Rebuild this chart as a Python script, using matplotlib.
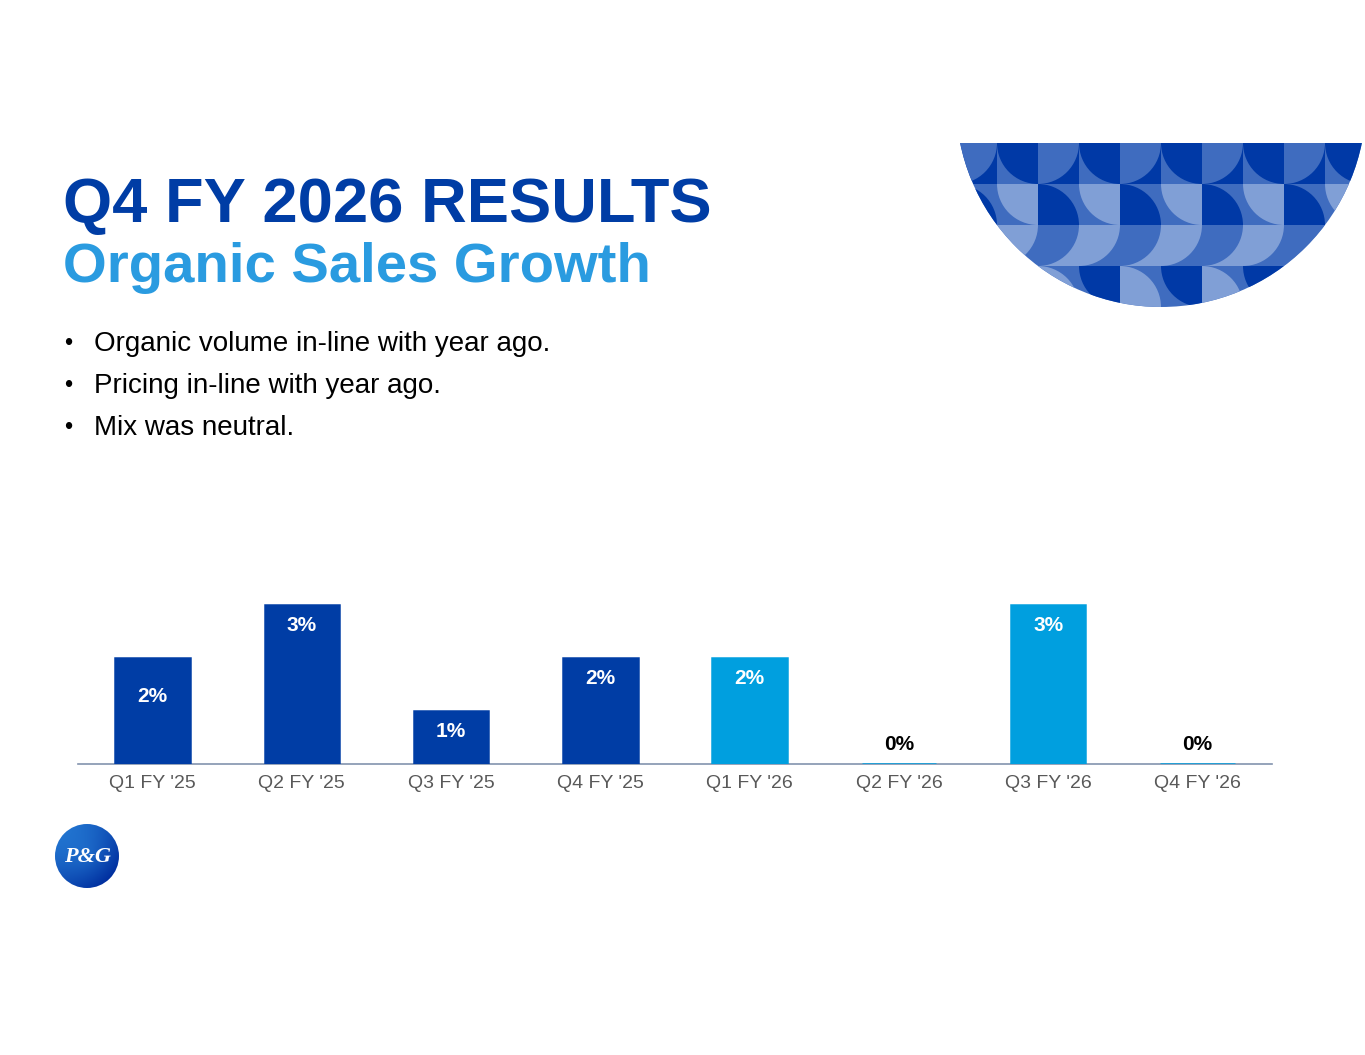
import numpy as np
import matplotlib.pyplot as plt
from matplotlib.patches import Circle, Rectangle, Wedge

# data
quarters = ["Q1 FY '25", "Q2 FY '25", "Q3 FY '25", "Q4 FY '25",
            "Q1 FY '26", "Q2 FY '26", "Q3 FY '26", "Q4 FY '26"]
growth = [2, 3, 1, 2, 2, 0, 3, 0]
fiscal_year = ['25', '25', '25', '25', '26', '26', '26', '26']

bullets = ["Organic volume in-line with year ago.",
           "Pricing in-line with year ago.",
           "Mix was neutral."]

DARK = '#0039A6'
MID = '#3F6CBF'
LIGHT = '#809FD6'
BAR_25 = '#003DA5'
BAR_26 = '#009FDF'

W, H = 1365, 1055
fig = plt.figure(figsize=(W / 100, H / 100), dpi=100)
plt.rcParams['font.family'] = ['Liberation Sans', 'DejaVu Sans']

# overlay axes in pixel coords for the slide furniture
bg = fig.add_axes([0, 0, 1, 1])
bg.set_xlim(0, W)
bg.set_ylim(H, 0)
bg.axis('off')

bg.text(63, 222, "Q4 FY 2026 RESULTS", fontsize=45.5, fontweight='bold',
        color='#003DA5', va='baseline', ha='left')
bg.text(63, 282, "Organic Sales Growth", fontsize=40.5, fontweight='bold',
        color='#2A9BE0', va='baseline', ha='left')

for i, b in enumerate(bullets):
    y = 344 + i * 42
    bg.text(64, y, "\u2022", fontsize=17, va='center', ha='left', color='black')
    bg.text(94, y, b, fontsize=20, va='center', ha='left', color='black')

# decorative tiled half circle
clip = Circle((1161, 102), 205, transform=bg.transData)
s = 41
x0, y0 = 956, 143
# (background, quarter colour, corner) per row, for even / odd columns
pattern = [
    [(DARK, MID, 'TL'), (MID, DARK, 'TR')],
    [(MID, DARK, 'BL'), (MID, LIGHT, 'TR')],
    [(LIGHT, MID, 'TL'), (MID, LIGHT, 'TL')],
    [(MID, LIGHT, 'BL'), (MID, DARK, 'TR')],
]
corner_def = {'TL': (0, 0, 0, 90), 'TR': (1, 0, 90, 180),
              'BL': (0, 1, 270, 360), 'BR': (1, 1, 180, 270)}
for r in range(4):
    for c in range(10):
        back, fore, corner = pattern[r][c % 2]
        tx, ty = x0 + c * s, y0 + r * s
        rect = Rectangle((tx, ty), s, s, facecolor=back, edgecolor='none')
        bg.add_patch(rect)
        rect.set_clip_path(clip)
        dx, dy, t1, t2 = corner_def[corner]
        wd = Wedge((tx + dx * s, ty + dy * s), s, t1, t2, facecolor=fore,
                   edgecolor='none')
        bg.add_patch(wd)
        wd.set_clip_path(clip)

# P&G logo
lx, ly, lr = 87, 856, 32
gx, gy = np.meshgrid(np.linspace(-1, 1, 200), np.linspace(-1, 1, 200))
shade = np.clip(0.45 * (gx + gy) + 0.45 * np.sqrt(gx ** 2 + gy ** 2) - 0.1, -1, 1)
c_light = np.array([0.20, 0.60, 0.92])
c_dark = np.array([0.0, 0.18, 0.62])
tt = (shade + 1) / 2
img = c_light[None, None, :] * (1 - tt[..., None]) + c_dark[None, None, :] * tt[..., None]
im = bg.imshow(img, extent=(lx - lr, lx + lr, ly + lr, ly - lr), zorder=2)
im.set_clip_path(Circle((lx, ly), lr, transform=bg.transData))
bg.text(lx + 1, ly + 1, "P&G", fontsize=16, fontweight='bold', style='italic',
        family=['Liberation Serif', 'DejaVu Serif'], color='white',
        ha='center', va='center', zorder=3)
bg.set_xlim(0, W)
bg.set_ylim(H, 0)

# bar chart
left, right, base, top = 78, 1272, 764, 590
ax = fig.add_axes([left / W, (H - base) / H, (right - left) / W, (base - top) / H])
ax.patch.set_alpha(0)
x = np.arange(len(quarters))
colors = [BAR_25 if fy == '25' else BAR_26 for fy in fiscal_year]
bars = ax.bar(x, growth, width=0.5, color=colors, edgecolor=colors,
              linewidth=1.8, zorder=3)
ax.set_xlim(-0.5, len(quarters) - 0.5)
ax.set_ylim(0, (base - top) / 53)

for i, (b, v) in enumerate(zip(bars, growth)):
    if v == 0:
        ax.annotate(f"{v}%", (b.get_x() + b.get_width() / 2, 0), xytext=(0, 14),
                    textcoords='offset points', ha='center', va='center',
                    fontsize=15, fontweight='bold', color='black', zorder=4)
    else:
        off = -28 if i == 0 else -15
        ax.annotate(f"{v}%", (b.get_x() + b.get_width() / 2, v), xytext=(0, off),
                    textcoords='offset points', ha='center', va='center',
                    fontsize=15, fontweight='bold', color='white', zorder=4)

ax.set_xticks(x)
ax.set_xticklabels(quarters, fontsize=14, color='#595959')
ax.tick_params(axis='x', length=0, pad=8)
ax.set_yticks([])
for sp in ['top', 'left', 'right']:
    ax.spines[sp].set_visible(False)
ax.spines['bottom'].set_color('#8393AE')
ax.spines['bottom'].set_linewidth(1.2)

fig.savefig('out.png', dpi=100)
